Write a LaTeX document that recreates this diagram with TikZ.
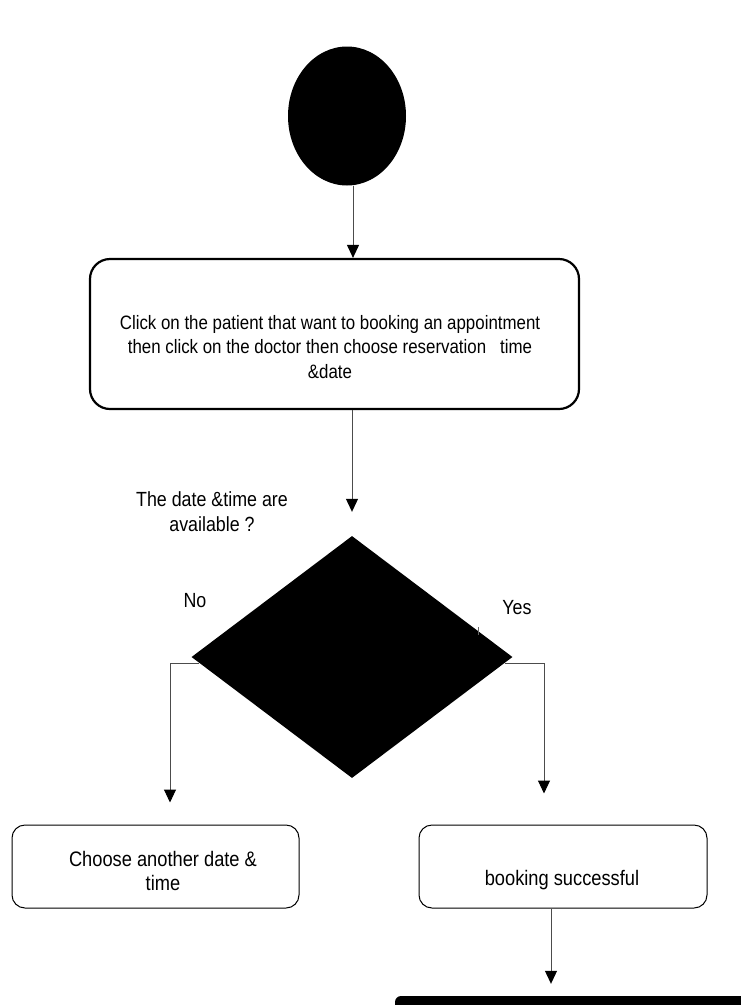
\documentclass[tikz,border=0pt]{standalone}
\usepackage{fontspec}
\setmainfont{Liberation Sans}
\newfontfamily\labfont[FakeStretch=0.87]{Liberation Sans}
\usetikzlibrary{shapes.geometric,arrows.meta,calc}

\tikzset{
  flow/.style={draw=black!70, line width=1pt,
    -{Triangle[width=12pt,length=13pt,black]}},
  roundbox/.style={draw=black, rounded corners=13pt, line width=1pt,
    fill=white, inner sep=0pt},
  lab/.style={font=\labfont\fontsize{20.5}{25}\selectfont, align=center,
    inner sep=0pt, anchor=base},
}

\begin{document}
\begin{tikzpicture}[x=1pt,y=-1pt]
  \useasboundingbox[fill=white] (0,0) rectangle (741,1005);

  % start symbol
  \node[ellipse, fill=black, inner sep=0pt,
        minimum width=118pt, minimum height=139pt] (start) at (347,116) {};

  % first activity (text block placed by the baseline of its last line)
  \node[roundbox, rounded corners=20pt, line width=2.2pt,
        minimum width=489pt, minimum height=150pt] (act) at (334.5,334) {};
  \node[lab, font=\labfont\fontsize{19.4}{24.5}\selectfont] (acttext) at (330,378)
    {Click on the patient that want to booking an appointment\\
     then click on the doctor then choose reservation\ \ \ time\\
     \&date};

  % decision
  \node[diamond, fill=black, inner sep=0pt,
        minimum width=321pt, minimum height=242pt] (dec) at (352,657) {};
  \node[lab] (question) at (212,531) {The date \&time are\\ available ?};
  \node[lab] (nolab) at (195,607) {No};
  \node[lab] (yeslab) at (517,614) {Yes};
  \draw[black!60, line width=0.8pt] (478,627) -- (478,635);

  % outcomes
  \node[roundbox, minimum width=287pt, minimum height=83pt] (retry) at (155.5,866.5) {};
  \node[lab, font=\labfont\fontsize{21}{23.5}\selectfont] (retrytext) at (163,890)
    {Choose another date \&\\ time};

  \node[roundbox, minimum width=288pt, minimum height=83pt] (done) at (563,866.5) {};
  \node[lab, font=\labfont\fontsize{21}{23.5}\selectfont] (donetext) at (562,885)
    {booking successful};

  % end bar
  \node[fill=black, rounded corners=6pt, inner sep=0pt,
        minimum width=385pt, minimum height=44pt] (finish) at (587.5,1018) {};

  % connectors
  \draw[flow] ([xshift=6pt]start.south) -- ([xshift=6pt]start.south |- act.north);
  \draw[flow, shorten >=24pt] (act.south -| dec.north) -- (dec.north);
  \draw[flow, shorten >=22pt] ([xshift=8pt,yshift=-6pt]dec.west)
    -| ([xshift=14.5pt]retry.north);
  \draw[flow, shorten >=31pt] ([xshift=-8pt,yshift=-6pt]dec.east)
    -| ([xshift=-19pt]done.north);
  \draw[flow, shorten >=12pt] ([xshift=-12pt]done.south)
    -- ([xshift=-12pt]done.south |- finish.north);
\end{tikzpicture}
\end{document}
